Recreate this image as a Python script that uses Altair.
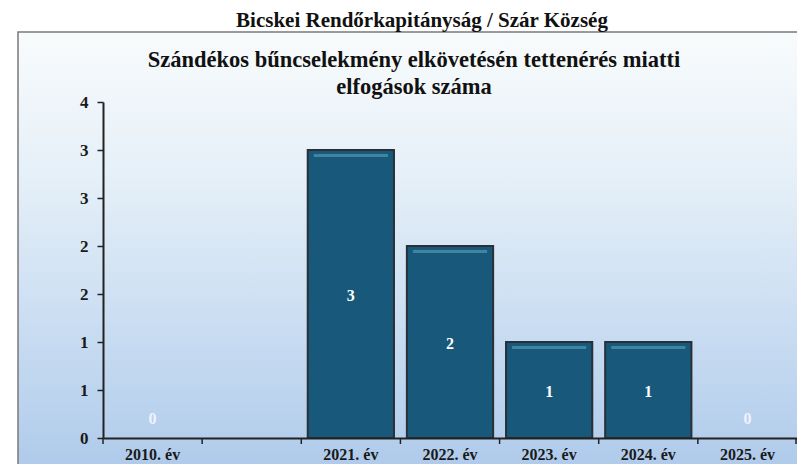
import altair as alt
import pandas as pd

# ---- data ----
categories = ["2010. év", "", "2021. év", "2022. év", "2023. év", "2024. év", "2025. év"]
values = [0, None, 3, 2, 1, 1, 0]
y_ticks = [0, 0.5, 1, 1.5, 2, 2.5, 3, 3.5]
outer_title = "Bicskei Rendőrkapitányság / Szár Község"
inner_title = ["Szándékos bűncselekmény elkövetésén tettenérés miatti", "elfogások száma"]

df = pd.DataFrame({"cat": categories, "v": values})

FONT = "Liberation Serif"
W, H = 694, 336
P_INNER, P_OUTER = 0.13, 0.065
STEP = W / len(categories)

x_scale = alt.Scale(domain=categories, paddingInner=P_INNER, paddingOuter=P_OUTER)
x_enc = alt.X(
    "cat:N",
    sort=categories,
    scale=x_scale,
    axis=alt.Axis(
        title=None, labelAngle=0, ticks=False,
        domainColor="#222222", domainWidth=2,
        labelFont=FONT, labelFontWeight="bold", labelFontSize=16, labelColor="#1a1a1a",
        labelPadding=8, zindex=1,
    ),
)
y_enc = alt.Y(
    "v:Q",
    scale=alt.Scale(domain=[0, 3.5], nice=False, zero=True),
    axis=alt.Axis(
        title=None, values=y_ticks, labelExpr="round(datum.value)", grid=False,
        tickSize=6, tickColor="#222222", tickWidth=1.5, domainColor="#222222", domainWidth=2,
        labelFont=FONT, labelFontWeight="bold", labelFontSize=17, labelColor="#1a1a1a",
        labelPadding=9, zindex=1,
    ),
)

gradient = alt.LinearGradient(
    gradient="linear",
    stops=[
        alt.GradientStop(color="#f8fbfc", offset=0),
        alt.GradientStop(color="#e6f0f8", offset=0.3),
        alt.GradientStop(color="#bfd6ef", offset=0.75),
        alt.GradientStop(color="#a9c6e9", offset=1),
    ],
    x1=0, x2=0, y1=0, y2=1,
)

one = pd.DataFrame({"k": [0]})

background = alt.Chart(one).mark_rect(
    color=gradient, stroke="#7a7a7a", strokeWidth=1.5
).encode(
    x=alt.value(-85), x2=alt.value(W + 30), y=alt.value(-70), y2=alt.value(H + 60)
)

base = alt.Chart(df).encode(x=x_enc)

# category-boundary ticks on the x axis (band centre shifted back half a step)
x_ticks = base.mark_rule(
    color="#222222", strokeWidth=1.5, xOffset=-STEP / 2
).encode(y=alt.value(H), y2=alt.value(H + 6))
x_tick_end = alt.Chart(one).mark_rule(color="#222222", strokeWidth=1.5).encode(
    x=alt.value(W - 1), y=alt.value(H), y2=alt.value(H + 6)
)

bars = base.transform_filter("datum.v > 0").mark_bar(
    color="#18587b", stroke="#2a3136", strokeWidth=2
).encode(y=y_enc)

bevel = base.transform_filter("datum.v > 0").mark_bar(
    color="#3f85a2", yOffset=4, y2Offset=7, width={"band": 0.86}
).encode(y=alt.Y("v:Q"), y2=alt.Y2("v"))

labels = base.transform_filter("datum.v > 0").transform_calculate(
    mid="datum.v / 2"
).mark_text(
    font=FONT, fontWeight="bold", fontSize=16, color="#ffffff", baseline="middle", dy=2
).encode(y=alt.Y("mid:Q"), text=alt.Text("v:Q"))

zero_labels = base.transform_filter("datum.v === 0").mark_text(
    font=FONT, fontWeight="bold", fontSize=16, color="#eef3ff", baseline="middle", dy=-19
).encode(y=alt.Y("v:Q"), text=alt.Text("v:Q"))

title_outer = alt.Chart(one).mark_text(
    font=FONT, fontWeight="bold", fontSize=21, color="#111111", baseline="alphabetic"
).encode(x=alt.value(319), y=alt.value(-75), text=alt.value(outer_title))

title_inner = alt.Chart(one).mark_text(
    font=FONT, fontWeight="bold", fontSize=22.5, color="#111111", baseline="alphabetic",
    lineHeight=27,
).encode(x=alt.value(311), y=alt.value(-35), text=alt.value(inner_title))

chart = alt.layer(
    background, x_ticks, x_tick_end, bars, bevel, labels, zero_labels, title_outer, title_inner
).properties(
    width=W, height=H,
    autosize=alt.AutoSizeParams(type="none"),
    padding={"left": 95, "top": 94, "right": 0, "bottom": 26},
    background="#ffffff",
).configure_view(strokeWidth=0)

chart.save("out.html", embed_options={"renderer": "svg", "actions": False})
